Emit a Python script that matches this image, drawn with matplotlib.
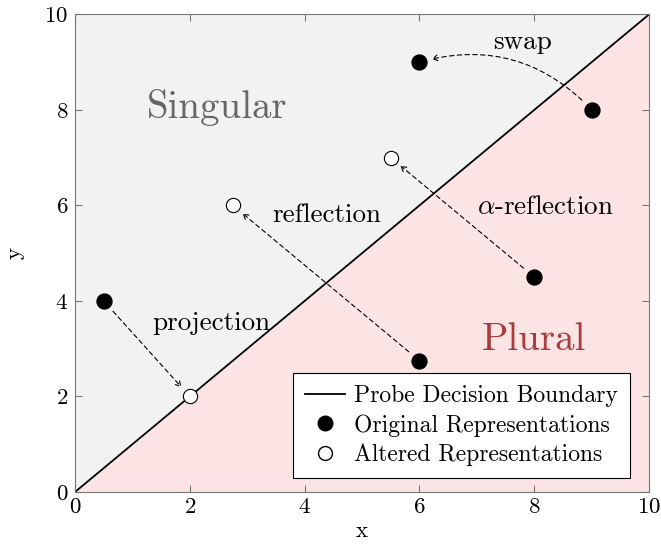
import matplotlib
matplotlib.use('Agg')
import matplotlib.pyplot as plt
from matplotlib.patches import FancyArrowPatch
from matplotlib.lines import Line2D

plt.rcParams['font.family'] = 'serif'
plt.rcParams['font.serif'] = ['cmr10', 'DejaVu Serif']
plt.rcParams['mathtext.fontset'] = 'cm'
plt.rcParams['axes.formatter.use_mathtext'] = True

# data
boundary_x = [0, 10]
boundary_y = [0, 10]
orig_x = [0.5, 6, 8, 9, 6]
orig_y = [4, 2.75, 4.5, 8, 9]
alt_x = [2, 2.75, 5.5]
alt_y = [2, 6, 7]
arrow_from = [(0.5, 4), (6, 2.75), (8, 4.5), (9, 8)]
arrow_to = [(2, 2), (2.75, 6), (5.5, 7), (6, 9)]
arrow_rad = [0, 0, 0, 0.3]
labels = ['projection', 'reflection', r'$\alpha$-reflection', 'swap']
label_pos = [(2.37, 3.54), (4.39, 5.79), (8.19, 5.96), (7.8, 9.41)]

fig = plt.figure(figsize=(6.61, 5.44), dpi=100)
ax = fig.add_axes([0.1135, 0.0956, 0.8685, 0.878])

ax.fill_between(boundary_x, boundary_y, 10, color='#f2f2f2', lw=0, zorder=0)
ax.fill_between(boundary_x, 0, boundary_y, color='#fde4e4', lw=0, zorder=0)
ax.plot(boundary_x, boundary_y, color='black', lw=1.3, zorder=2)

for (p0, p1, rad) in zip(arrow_from, arrow_to, arrow_rad):
    arr = FancyArrowPatch(p0, p1, arrowstyle='->,head_length=3.5,head_width=2',
                          connectionstyle='arc3,rad=%s' % rad,
                          linestyle=(0, (4, 3)), lw=0.8, color='black',
                          shrinkA=10, shrinkB=9, zorder=3)
    ax.add_patch(arr)

ax.scatter(orig_x, orig_y, s=115, color='black', zorder=4)
ax.scatter(alt_x, alt_y, s=105, facecolor='white', edgecolor='black', lw=0.8, zorder=4)

for txt, (tx, ty) in zip(labels, label_pos):
    ax.text(tx, ty, txt, fontsize=19.5, ha='center', va='center', zorder=5)

ax.text(2.47, 8.05, 'Singular', fontsize=28, color='#666666', ha='center', va='center')
ax.text(8.0, 3.18, 'Plural', fontsize=28, color='#a83c3c', ha='center', va='center')

ax.set_xlim(0, 10)
ax.set_ylim(0, 10)
ax.set_xticks([0, 2, 4, 6, 8, 10])
ax.set_yticks([0, 2, 4, 6, 8, 10])
ax.tick_params(direction='in', top=True, right=True, length=5, color='#777777',
               labelsize=16.5)
ax.tick_params(axis='x', pad=4)
ax.tick_params(axis='y', pad=5)
for s in ax.spines.values():
    s.set_color('#777777')
ax.set_xlabel('x', fontsize=16.5, labelpad=3)
ax.set_ylabel('y', fontsize=16.5, labelpad=14)

handles = [Line2D([], [], color='black', lw=1.3),
           Line2D([], [], marker='o', ls='', color='black', markersize=10.5),
           Line2D([], [], marker='o', ls='', markerfacecolor='white',
                  markeredgecolor='black', markersize=10)]
leg = ax.legend(handles, ['Probe Decision Boundary', 'Original Representations',
                          'Altered Representations'],
                loc='lower right', bbox_to_anchor=(0.967, 0.029),
                fontsize=17, fancybox=False, framealpha=1,
                edgecolor='black', handlelength=1.7, borderaxespad=0,
                labelspacing=0.3, handletextpad=0.4, borderpad=0.5,
                alignment='center')
leg.get_frame().set_linewidth(0.8)

fig.savefig('out.png', dpi=100)
